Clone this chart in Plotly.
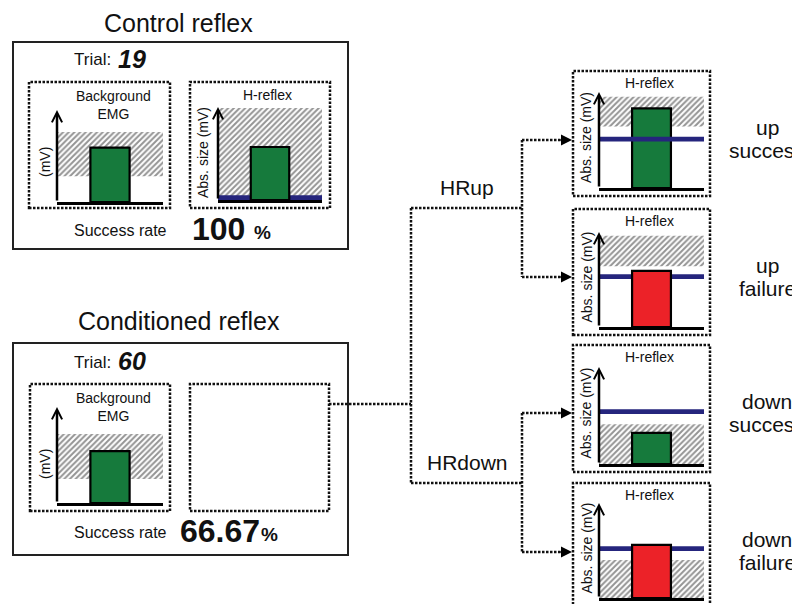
import plotly.graph_objects as go

# the page adds an 8px body margin, so the figure is 8px smaller and shifted
OFF = 8
W, H = 800 - OFF, 604 - OFF

# mini-chart values, y in arbitrary units (10 = tip of the y-axis arrow)
panel_names = ["ctrl_emg", "ctrl_h", "cond_emg", "up_succ", "up_fail", "down_succ", "down_fail"]
band_low = [2.8, 0.0, 2.5, 6.4, 6.4, 0.0, 0.0]
band_high = [7.6, 9.9, 7.2, 9.5, 9.6, 4.1, 4.0]
bar_value = [5.9, 5.7, 5.4, 8.3, 5.9, 3.2, 5.6]
threshold = [None, 0.25, None, 5.1, 5.3, 5.4, 5.2]
outcome = ["ok", "ok", "ok", "ok", "fail", "ok", "fail"]

# panel texts
trial_numbers = ["19", "60"]
success_rates = ["100", "66.67"]
branch_labels = ["HRup", "HRdown"]
result_labels = [("up", "success"), ("up", "failure"), ("down", "success"), ("down", "failure")]

GREEN = "#167a3c"
RED = "#ec2228"
NAVY = "#25257d"
FONT = "Liberation Sans, Arial, sans-serif"

# pixel geometry of each mini chart: x0, x1, y_top(arrow tip), y_base
geom = [(57, 163, 110, 202), (218, 322, 107, 200), (57, 163, 407, 503),
        (599, 704, 92, 188), (599, 704, 232, 327), (599, 704, 367, 464), (599, 704, 503, 598)]
line_on_top = [False, False, False, True, False, False, False]


def px(x):
    return (x - OFF) / W


def py(y):
    return 1 - (y - OFF) / H


fig = go.Figure()
layout_axes = {}
annotations = []

for i, name in enumerate(panel_names):
    s = "" if i == 0 else str(i + 1)
    xa, ya = "x" + s, "y" + s
    x0, x1, yt, yb = geom[i]

    # hatched target band
    fig.add_trace(go.Bar(
        x=[0.5], y=[band_high[i] - band_low[i]], base=[band_low[i]], width=[1.0],
        xaxis=xa, yaxis=ya, hoverinfo="skip",
        marker=dict(color="white", line=dict(width=0),
                    pattern=dict(shape="/", fgcolor="#2a2a2a", bgcolor="white", size=4, solidity=0.5)),
    ))

    thr_trace = None
    if threshold[i] is not None:
        thr_trace = go.Bar(
            x=[0.5], y=[0.5], base=[threshold[i] - 0.25], width=[1.0],
            xaxis=xa, yaxis=ya, hoverinfo="skip",
            marker=dict(color=NAVY, line=dict(width=0)),
        )
    bar_trace = go.Bar(
        x=[0.5], y=[bar_value[i]], width=[0.37], xaxis=xa, yaxis=ya,
        marker=dict(color=GREEN if outcome[i] == "ok" else RED, line=dict(color="black", width=2.2)),
    )
    if line_on_top[i]:
        fig.add_trace(bar_trace)
        if thr_trace is not None:
            fig.add_trace(thr_trace)
    else:
        if thr_trace is not None:
            fig.add_trace(thr_trace)
        fig.add_trace(bar_trace)

    layout_axes["xaxis" + s] = dict(
        domain=[px(x0), px(x1)], range=[0, 1], anchor=ya, showline=True, linecolor="black",
        linewidth=2.5, showgrid=False, zeroline=False, showticklabels=False, ticks="", fixedrange=True)
    layout_axes["yaxis" + s] = dict(
        domain=[py(yb), py(yt)], range=[0, 10], anchor=xa, showline=False, showgrid=False,
        zeroline=False, showticklabels=False, ticks="", fixedrange=True)

    # y-axis with arrow head
    annotations.append(dict(
        x=0, y=10, ax=0, ay=0, xref=xa, yref=ya, axref=xa, ayref=ya, text="",
        showarrow=True, arrowhead=5, arrowsize=0.8, arrowwidth=2.5, arrowcolor="black"))


def txt(text, x, y, size, xanchor="center", angle=0, color="#111"):
    annotations.append(dict(
        text=text, x=px(x), y=py(y), xref="paper", yref="paper", showarrow=False,
        xanchor=xanchor, yanchor="middle", textangle=angle,
        font=dict(family=FONT, size=size, color=color)))


# left panels
txt("Control reflex", 178, 23, 25)
txt("Conditioned reflex", 179, 321, 25)
for k, yoff in enumerate([0, 302]):
    txt("Trial:", 92, 60 + yoff, 17)
    txt("<b><i>" + trial_numbers[k] + "</i></b>", 116, 59 + yoff, 25, xanchor="left")
    txt("Background<br>EMG", 113, 105 + yoff, 14)
    txt("(mV)", 45, 162 + yoff, 14, angle=-90)
    txt("Success rate", 120, 230 + yoff, 16)
txt("<b>" + success_rates[0] + "</b>", 190, 229, 32, xanchor="left")
txt("<b>%</b>", 252, 232, 19, xanchor="left")
txt("<b>" + success_rates[1] + "</b>", 178, 531, 32, xanchor="left")
txt("<b>%</b>", 259, 534, 19, xanchor="left")

txt("H-reflex", 267, 95, 14)
txt("Abs. size (mV)", 203, 153, 14, angle=-90)

# right panels
right_tops = [71, 209, 345, 483]
for k, top in enumerate(right_tops):
    x0, x1, yt, yb = geom[3 + k]
    txt("H-reflex", 649, top + 12, 14)
    txt("Abs. size (mV)", 586, (yt + yb) / 2 - 2, 14, angle=-90)
    mid = (top + top + 125) / 2
    txt(result_labels[k][0], 767, mid - 6, 21)
    txt(result_labels[k][1], 767, mid + 17, 21)

txt(branch_labels[0], 467, 187, 21)
txt(branch_labels[1], 467, 462, 21)

# boxes
shapes = []
solid = dict(color="#222", width=2)
dotted = dict(color="#111", width=2.5, dash="2.5px,1.5px")
for (x0, y0, x1, y1) in [(13, 42, 348, 249), (13, 343, 348, 555)]:
    shapes.append(dict(type="rect", xref="paper", yref="paper", x0=px(x0), x1=px(x1),
                       y0=py(y1), y1=py(y0), line=solid, layer="below"))
dot_boxes = [(29, 82, 170, 208), (190, 82, 330, 208), (30, 384, 170, 511), (190, 384, 329, 511),
             (573, 71, 710, 196), (573, 209, 710, 335), (573, 345, 710, 472), (573, 483, 710, 610)]
for (x0, y0, x1, y1) in dot_boxes:
    shapes.append(dict(type="rect", xref="paper", yref="paper", x0=px(x0), x1=px(x1),
                       y0=py(y1), y1=py(y0), line=dotted, layer="below"))

# connectors
segments = [((329, 404), (411, 404)), ((411, 208), (411, 483)),
            ((411, 208), (522, 208)), ((411, 483), (522, 483)),
            ((522, 140), (522, 277)), ((522, 413), (522, 552))]
arrow_ys = [140, 277, 413, 552]
for y in arrow_ys:
    segments.append(((522, y), (561, y)))
for (a, b) in segments:
    shapes.append(dict(type="line", xref="paper", yref="paper", x0=px(a[0]), y0=py(a[1]),
                       x1=px(b[0]), y1=py(b[1]), line=dotted))
for y in arrow_ys:
    annotations.append(dict(x=px(572), y=py(y), xref="paper", yref="paper", ax=-13, ay=0,
                            text="", showarrow=True, arrowhead=2, arrowsize=1.1,
                            arrowwidth=2, arrowcolor="black"))

fig.update_layout(
    width=W, height=H, margin=dict(l=0, r=0, t=0, b=0),
    paper_bgcolor="white", plot_bgcolor="rgba(0,0,0,0)",
    showlegend=False, barmode="overlay",
    annotations=annotations, shapes=shapes,
    **layout_axes,
)

fig.write_html("out.html")
